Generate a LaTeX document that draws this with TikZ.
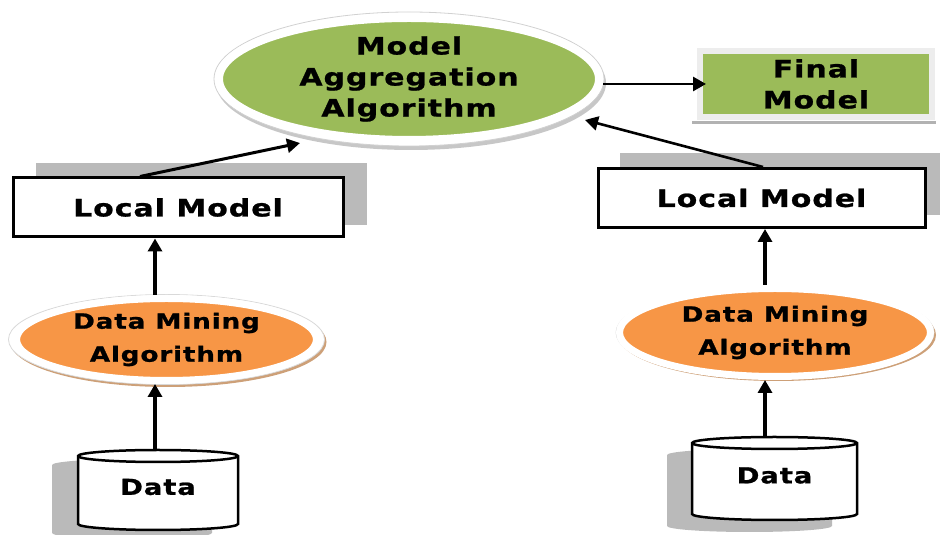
\documentclass[tikz,border=0pt]{standalone}
\usepackage{fontspec}
\newfontfamily\dfont{DejaVu Sans Bold}[FakeStretch=1.25,LetterSpace=4,FakeBold=1]
\usetikzlibrary{shapes.geometric,arrows.meta}
\definecolor{aggG}{RGB}{155,187,89}
\definecolor{dmO}{RGB}{247,150,70}
\definecolor{tanSh}{RGB}{205,160,120}
\tikzset{
  arr/.style={-{Triangle[length=13pt,width=14pt]},line width=3.5pt,black},
  arrthin/.style={-{Triangle[length=13pt,width=14pt]},line width=3pt,black},
  aggnode/.style={ellipse,fill=aggG,draw=white,line width=8pt,inner sep=0pt,
    minimum width=380pt,minimum height=122pt,align=center,
    font=\dfont\fontsize{24}{31}\selectfont},
  dmnode/.style={ellipse,fill=dmO,draw=white,line width=7pt,inner sep=0pt,
    align=center,font=\dfont\fontsize{21}{33}\selectfont},
  finnode/.style={rectangle,fill=aggG,draw=black!7,line width=6pt,inner sep=0pt,
    minimum width=232pt,minimum height=66pt,align=center,
    font=\dfont\fontsize{24}{31}\selectfont},
  lmnode/.style={rectangle,fill=white,draw=black,line width=3pt,inner sep=0pt,
    minimum height=59pt,font=\dfont\fontsize{24}{28}\selectfont},
  datanode/.style={rectangle,draw=none,inner sep=0pt,
    font=\dfont\fontsize{22}{26}\selectfont},
  shade/.style={fill=black!27},
  cyl/.style={fill=white,draw=black,line width=2.5pt}
}
\begin{document}
\begin{tikzpicture}[x=1pt,y=1pt]
\useasboundingbox (0,0) rectangle (940,535);
% ---------- Aggregation ellipse ----------
\fill[black!22] (411,452) ellipse (195 and 67);
\filldraw[fill=white,draw=black!18,line width=0.8pt] (409,456) ellipse (195 and 67);
\node[aggnode] (agg) at (409,456) {Model\\Aggregation\\Algorithm};
% ---------- Final model ----------
\fill[black!30] (692,411) rectangle (936,414);
\node[finnode] (fin) at (816,451) {Final\\Model};
% ---------- Local models ----------
\fill[shade] (36,310) rectangle (367,372);
\node[lmnode,minimum width=330pt] (lm1) at (178,327.5) {Local Model};
\fill[shade] (620,320) rectangle (940,382);
\node[lmnode,minimum width=327pt] (lm2) at (761.5,337) {Local Model};
% ---------- Data mining ellipses ----------
\fill[tanSh] (168.5,193) ellipse (158 and 45);
\filldraw[fill=white,draw=black!15,line width=0.8pt] (166.5,195.5) ellipse (158 and 45);
\node[dmnode,minimum width=300pt,minimum height=82pt] (dm1) at (166.5,195.5) {Data Mining\\Algorithm};
\fill[tanSh] (777,200) ellipse (159 and 46);
\filldraw[fill=white,draw=black!15,line width=0.8pt] (775,202.5) ellipse (159 and 46);
\node[dmnode,minimum width=311pt,minimum height=88pt] (dm2) at (775,202.5) {Data Mining\\Algorithm};
% ---------- Data cylinders ----------
\fill[shade] (52,70) -- (52,2) arc (180:360:80 and 6) -- (212,70) arc (0:180:80 and 6) -- cycle;
\filldraw[cyl] (78,79) -- (78,11) arc (180:360:80 and 6) -- (238,79) arc (0:180:80 and 6) -- cycle;
\draw[line width=2.5pt] (238,79) arc (360:180:80 and 6);
\node[datanode,minimum width=160pt,minimum height=74pt] (d1) at (158,48) {Data};
\fill[shade] (667,80) -- (667,9) arc (180:360:82.5 and 6) -- (832,80) arc (0:180:82.5 and 6) -- cycle;
\filldraw[cyl] (692,92) -- (692,21) arc (180:360:82.5 and 6) -- (857,92) arc (0:180:82.5 and 6) -- cycle;
\draw[line width=2.5pt] (857,92) arc (360:180:82.5 and 6);
\node[datanode,minimum width=165pt,minimum height=77pt] (d2) at (774.5,59.5) {Data};
% ---------- Connectors ----------
\coordinate (xl) at (155,0);
\coordinate (xr) at (765,0);
\coordinate (t1) at (300,392);
\coordinate (t2) at (585,415);
\draw[arr] (d1.north -| xl) -- (dm1.south -| xl);
\draw[arr] (dm1.north -| xl) -- (lm1.south -| xl);
\draw[arrthin] ([xshift=-38pt]lm1.north) -- (t1);
\draw[arr] (d2.north -| xr) -- (dm2.south -| xr);
\draw[arr] (dm2.north -| xr) -- (lm2.south -| xr);
\draw[arrthin,line width=2.6pt] ([xshift=1.5pt]lm2.north) -- (t2);
\draw[arrthin,line width=2.8pt] (fin.west -| agg.east) -- ([xshift=9pt]fin.west);
\end{tikzpicture}
\end{document}
